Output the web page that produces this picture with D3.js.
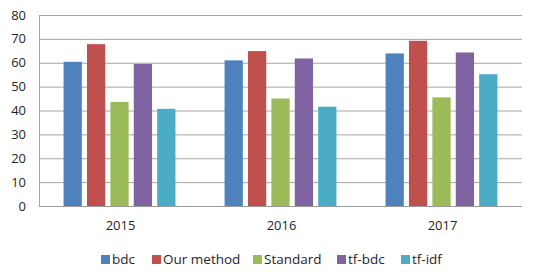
<!DOCTYPE html>
<html><head><meta charset="utf-8">
<script src="https://cdn.jsdelivr.net/npm/d3@7"></script>
<style>body{margin:0;background:#fff}svg{display:block}text{font-family:"Open Sans",sans-serif;fill:#262626}</style>
</head><body><svg id="c" width="539" height="272"></svg>
<script>
const categories = ["2015","2016","2017"];
const seriesNames = ["bdc","Our method","Standard","tf-bdc","tf-idf"];
const bdc = [60.4, 61.0, 63.9];
const ourMethod = [67.8, 64.9, 69.2];
const standard = [43.6, 45.0, 45.5];
const tfBdc = [59.5, 61.8, 64.3];
const tfIdf = [40.7, 41.6, 55.2];
const yTicks = [0,10,20,30,40,50,60,70,80];
const colors = ["#4F81BD","#C0504D","#9BBB59","#8064A2","#4BACC6"];
const seriesValues = [bdc, ourMethod, standard, tfBdc, tfIdf];

const svg = d3.select("#c");
const L=39, R=522, T=15, B=206;
const x0 = d3.scaleBand().domain(categories).range([L,R]).paddingInner(0).paddingOuter(0);
const x1 = d3.scaleBand().domain(seriesNames).range([0, x0.bandwidth()]).paddingInner(0.22).paddingOuter(1.05);
const y = d3.scaleLinear().domain([0,80]).range([B,T]);

// gridlines
svg.append("g").selectAll("line").data(yTicks).join("line")
  .attr("x1",L).attr("x2",R).attr("y1",d=>y(d)+0.5).attr("y2",d=>y(d)+0.5)
  .attr("stroke",d=>d===0?"#9a9a9a":"#a6a6a6").attr("stroke-width",1);
svg.append("line").attr("x1",L+0.5).attr("x2",L+0.5).attr("y1",T).attr("y2",B)
  .attr("stroke","#a6a6a6");

// y labels
svg.append("g").selectAll("text").data(yTicks).join("text")
  .attr("x",26).attr("y",d=>y(d)).attr("dy","0.35em").attr("text-anchor","end")
  .style("font-size","13px").text(d=>d);

// bars
seriesNames.forEach((s,i)=>{
  svg.append("g").selectAll("rect").data(seriesValues[i]).join("rect")
    .attr("x",(d,j)=>x0(categories[j])+x1(s))
    .attr("width",x1.bandwidth())
    .attr("y",d=>y(d)).attr("height",d=>B-y(d))
    .attr("fill",colors[i]);
});

// x labels
svg.append("g").selectAll("text").data(categories).join("text")
  .attr("x",d=>x0(d)+x0.bandwidth()/2+1).attr("y",225).attr("dy","0.35em")
  .attr("text-anchor","middle").style("font-size","13px").text(d=>d);

// legend
const legX = [101,152,253,337,401];
const lg = svg.append("g");
seriesNames.forEach((s,i)=>{
  lg.append("rect").attr("x",legX[i]).attr("y",255).attr("width",9).attr("height",9).attr("fill",colors[i]);
  lg.append("text").attr("x",legX[i]+11).attr("y",259.5).attr("dy","0.35em")
    .style("font-size","13.5px").text(s);
});
</script></body></html>
